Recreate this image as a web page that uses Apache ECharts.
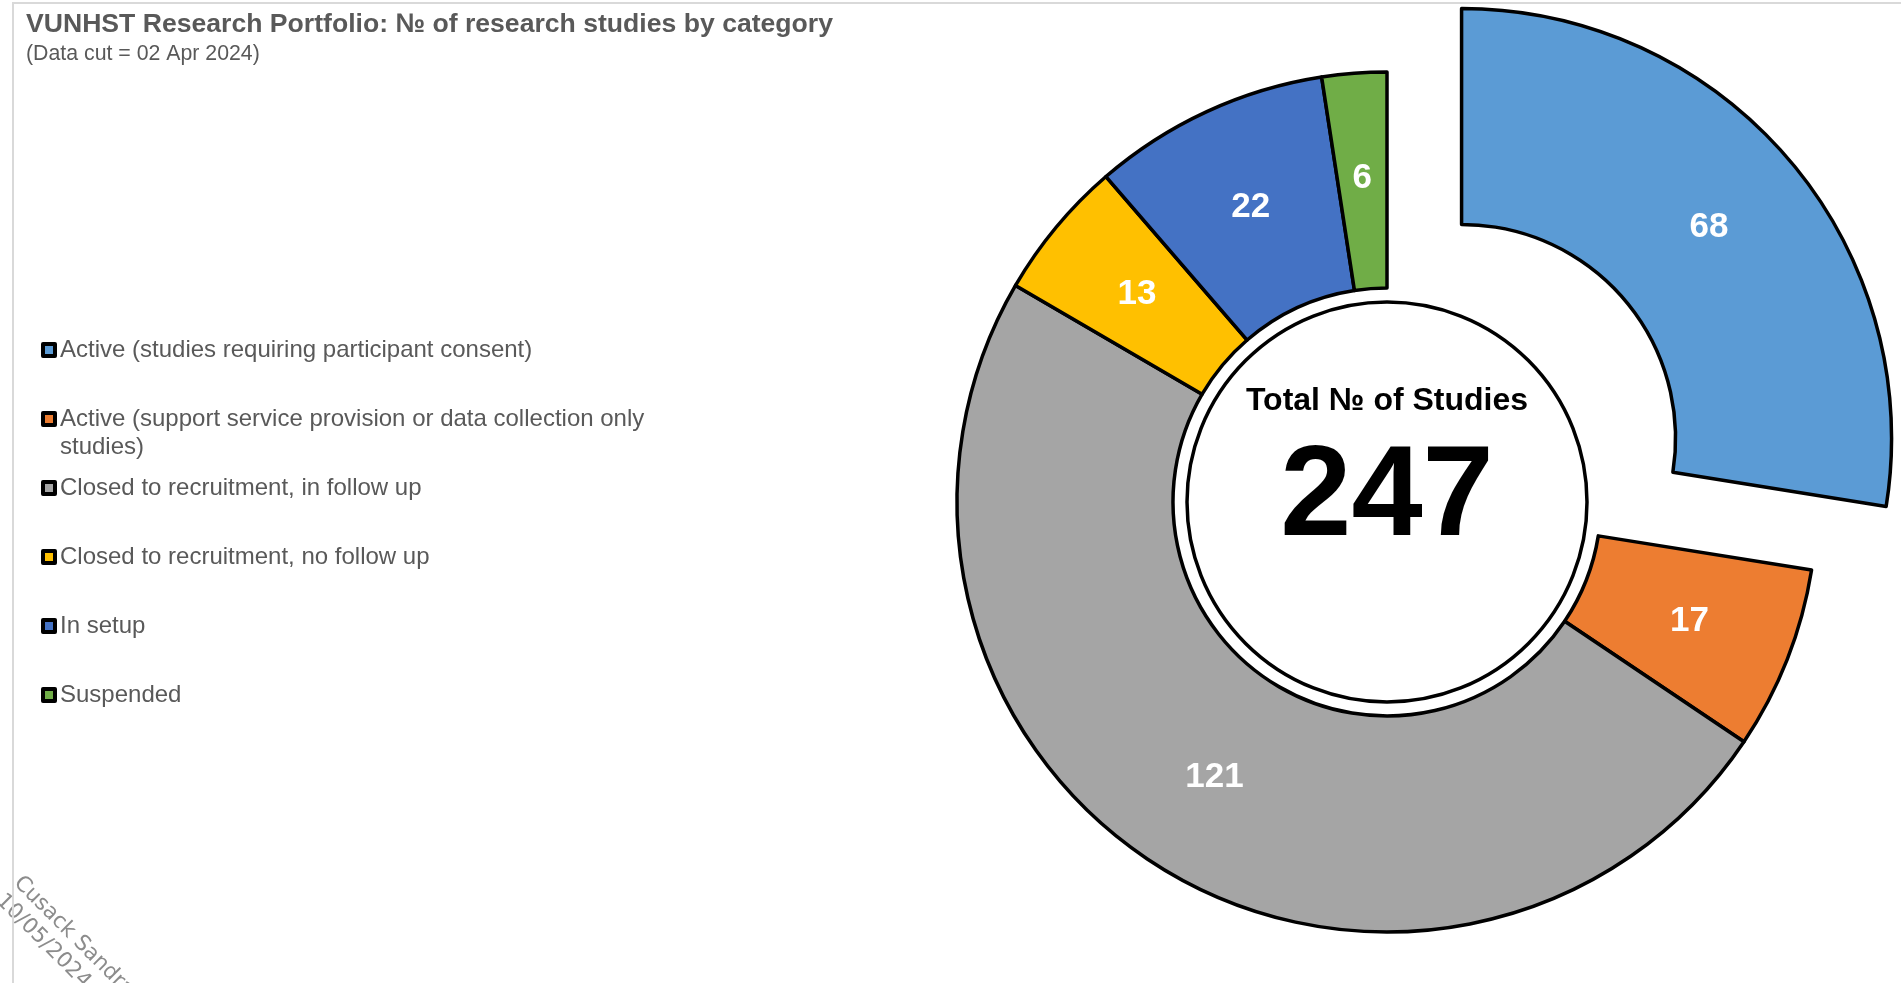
<!DOCTYPE html>
<html>
<head>
<meta charset="utf-8">
<title>VUNHST Research Portfolio</title>
<script src="https://cdn.jsdelivr.net/npm/echarts@6/dist/echarts.min.js"></script>
<style>
  html, body { margin: 0; padding: 0; background: #fff; overflow: hidden; }
  #chart { width: 1901px; height: 983px; }
  /* thin grey frame of the original dashboard tile */
  .frame {
    position: absolute; left: 12px; top: 2px; width: 1901px; height: 983px;
    border-left: 2px solid #d9d9d9; border-top: 2px solid #d9d9d9;
    pointer-events: none;
  }
</style>
</head>
<body>
<div id="chart"></div>
<div class="frame"></div>
<script>
const categories = [
  'Active (studies requiring participant consent)',
  'Active (support service provision or data collection only studies)',
  'Closed to recruitment, in follow up',
  'Closed to recruitment, no follow up',
  'In setup',
  'Suspended'
];
const studyCounts = [68, 17, 121, 13, 22, 6];
const sliceColors = ['#5B9BD5', '#ED7D31', '#A5A5A5', '#FFC000', '#4472C4', '#70AD47'];
const explodedSlice = 0;  // the pulled-out slice
const dataCutDate = '02 Apr 2024';
const watermark = 'Cusack Sandra\n10/05/2024';

const totalStudies = studyCounts.reduce((a, b) => a + b, 0);
const fontFamily = 'Liberation Sans, Arial, sans-serif';
const pieCenter = [1387, 502];

// legend rows sit on a fixed pitch like Excel's, even when a label wraps,
// so each entry gets its own legend box
const legendFirstRow = 348;
const legendPitch = 69;
const wrappedEntry = 1;

function makeLegend(name, i) {
  const wraps = i === wrappedEntry;
  const rowCenter = legendFirstRow + legendPitch * i;
  return {
    orient: 'vertical',
    left: 41,
    top: rowCenter - (wraps ? 40 : 12),
    padding: 0,
    icon: 'rect',
    itemWidth: 12,
    itemHeight: 12,
    selectedMode: false,
    data: [name],
    // blank lead line keeps the icon level with the first text line
    formatter: wraps ? '\u00a0\n{name}' : '{name}',
    itemStyle: { borderColor: '#000', borderWidth: 4 },
    textStyle: {
      color: '#595959',
      fontSize: 24,
      fontFamily: fontFamily,
      width: 600,
      overflow: 'break',
      lineHeight: 28
    }
  };
}

const chart = echarts.init(document.getElementById('chart'));

const option = {
  backgroundColor: 'transparent',
  animation: false,
  textStyle: { fontFamily: fontFamily },
  title: {
    text: 'VUNHST Research Portfolio: № of research studies by category',
    subtext: '(Data cut = ' + dataCutDate + ')',
    left: 26,
    top: 11,
    padding: 0,
    itemGap: 6,
    textStyle: { color: '#595959', fontSize: 26.6, fontWeight: 'bold', fontFamily: fontFamily },
    subtextStyle: { color: '#595959', fontSize: 21.3, fontFamily: fontFamily }
  },
  legend: categories.map(makeLegend),
  graphic: [{
    type: 'text',
    x: 26,
    y: 871,
    rotation: -Math.PI / 4,
    silent: true,
    style: {
      text: watermark,
      fill: '#8c8c8c',
      font: '21.5px "DejaVu Sans"',
      lineHeight: 25
    }
  }],
  series: [
    {
      // white disc with the total in the middle
      type: 'pie',
      silent: true,
      center: pieCenter,
      radius: [0, 200],
      legendHoverLink: false,
      itemStyle: { color: '#fff', borderColor: '#000', borderWidth: 3.5 },
      label: {
        show: true,
        position: 'center',
        padding: [0, 0, 44, 0],
        formatter: '{a|Total № of Studies}\n{b|' + totalStudies + '}',
        rich: {
          a: { fontSize: 32, fontWeight: 'bold', color: '#000', lineHeight: 40, fontFamily: fontFamily },
          b: { fontSize: 128, fontWeight: 'bold', color: '#000', lineHeight: 158, fontFamily: fontFamily }
        }
      },
      labelLine: { show: false },
      emphasis: { disabled: true },
      data: [{ value: totalStudies, name: 'Total' }]
    },
    {
      name: 'Studies',
      type: 'pie',
      center: pieCenter,
      radius: [214, 430],
      startAngle: 90,
      clockwise: true,
      avoidLabelOverlap: false,
      selectedMode: 'single',
      selectedOffset: 98,
      itemStyle: { borderColor: '#000', borderWidth: 3.5 },
      label: {
        show: true,
        position: 'inside',
        formatter: '{c}',
        color: '#fff',
        fontSize: 35,
        fontWeight: 'bold',
        fontFamily: fontFamily
      },
      labelLine: { show: false },
      emphasis: { disabled: true },
      data: categories.map((name, i) => ({
        name: name,
        value: studyCounts[i],
        selected: i === explodedSlice,
        itemStyle: { color: sliceColors[i] }
      }))
    }
  ]
};

chart.setOption(option);
</script>
</body>
</html>
